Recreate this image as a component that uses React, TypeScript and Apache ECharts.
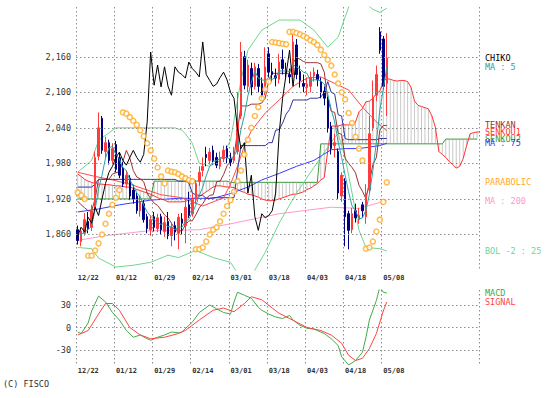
import React, { useEffect, useRef } from 'react';
import * as echarts from 'echarts';

const N = 116;
const FONT = '"DejaVu Sans Mono", monospace';
const tickLabels = ['12/22', '01/12', '01/29', '02/14', '03/01', '03/18', '04/03', '04/18', '05/08'];
const priceGrid = [1860, 1920, 1980, 2040, 2100, 2160];
const macdGrid = [-30, 0, 30];

const opens = [1868,1848,1862,1882,1872,1905,1992,2056,2000,2015,1985,2012,1990,1972,1945,1955,1935,1925,1900,1912,1890,1868,1890,1870,1890,1865,1882,1858,1875,1862,1886,1875,1910,1895,1918,1950,1968,1995,1985,2002,1990,1975,1988,2005,1988,1985,2000,2060,2160,2110,2140,2110,2140,2115,2100,2165,2135,2128,2122,2155,2138,2130,2130,2180,2135,2115,2108,2110,2128,2130,2118,2102,2088,2042,2010,2000,1925,1950,1895,1868,1900,1885,1910,1890,1935,2040,2095,2202,2190,2115];
const closes = [1850,1866,1885,1870,1900,1990,2040,2002,2015,1985,2005,1970,1960,1945,1960,1925,1920,1900,1915,1885,1870,1885,1872,1888,1868,1880,1858,1872,1864,1889,1879,1906,1892,1920,1946,1965,1975,1990,1999,1985,1977,1990,2002,1990,1982,1995,2050,2168,2112,2146,2109,2143,2110,2095,2143,2134,2130,2124,2151,2140,2134,2126,2185,2130,2120,2110,2114,2125,2134,2121,2100,2090,2040,2005,2015,1930,1960,1890,1867,1895,1888,1892,1900,1930,2030,2090,2130,2171,2110,2158];
const lows = [1843,1840,1858,1862,1866,1900,1985,1996,1988,1978,1980,1965,1955,1940,1938,1918,1912,1895,1890,1880,1862,1858,1865,1864,1860,1856,1852,1840,1850,1835,1860,1845,1888,1890,1912,1942,1958,1975,1978,1978,1972,1970,1982,1980,1975,1980,1995,2055,2105,2100,2095,2105,2100,2088,2095,2125,2118,2110,2115,2130,2125,2115,2125,2122,2108,2100,2095,2100,2118,2110,2090,2078,2032,1995,1990,1920,1915,1840,1835,1862,1880,1878,1888,1878,1930,2035,2085,2165,2105,2060];
const highs = [1875,1872,1896,1898,1910,2000,2066,2060,2025,2020,2014,2018,1998,1982,1968,1960,1944,1930,1925,1918,1895,1892,1898,1895,1895,1890,1898,1880,1882,1895,1896,1918,1932,1930,1952,1975,1990,2008,2006,2010,1998,2000,2010,2010,1998,2008,2100,2185,2170,2155,2150,2150,2148,2125,2176,2176,2150,2140,2165,2172,2150,2140,2205,2190,2145,2130,2125,2135,2142,2138,2125,2110,2092,2050,2030,2005,1965,1955,1900,1905,1912,1905,1915,1945,2060,2120,2145,2210,2195,2200];

const tenkan = [1916,1910,1905,1900,1900,1920,1953,1953,1953,1953,1962,1964,1966,1983,2002,1989,1968,1957,1954,1949,1930,1920,1913,1909,1901,1893,1888,1879,1869,1866,1866,1876,1883,1883,1893,1905,1912,1921,1926,1927,1949,1950,1961,1976,1984,1990,2035,2077,2077,2077,2080,2080,2080,2082,2090,2120,2132,2132,2132,2132,2132,2132,2150,2158,2156,2152,2150,2150,2150,2150,2148,2134,2089,2068,2066,2031,2029,1989,1980,1973,1964,1943,1933,1920,1948,1978,1990,2036,2044,2044];
const kijun = [1940,1940,1940,1940,1940,1945,1953,1953,1953,1953,1953,1953,1953,1953,1953,1953,1953,1953,1953,1953,1953,1953,1953,1953,1953,1953,1953,1953,1953,1950,1950,1950,1947,1930,1927,1926,1926,1921,1921,1922,1922,1922,1922,1922,1922,1922,1967,2010,2010,2010,2010,2010,2010,2010,2010,2015,2015,2036,2037,2048,2063,2071,2087,2087,2087,2087,2087,2090,2090,2090,2092,2100,2118,2100,2097,2062,2060,2022,2020,2020,2020,2020,2020,2020,2020,2020,2020,2022,2022,2022];
const senkou1 = [1962,1958,1953,1950,1948,1946,1945,1945,1944,1944,1943,1942,1942,1941,1940,1940,1938,1936,1934,1932,1930,1928,1925,1922,1920,1918,
  1915,1915,1915,1915,1915,1916,1918,1920,1922,1924,1928,1932,1936,1940,1942,1942,1941,1940,1940,1939,
  1936,1933,1931,1928,1927,1925,1923,1920,1918,1917,1917,1918,1920,1922,1924,1926,1928,1928,1930,1932,1936,1938,1942,1946,1952,1956,
  2001,2043,2043,2043,2045,2045,2045,2046,2050,2067,2073,2084,2085,2090,2098,2102,2119,2123,2122,2120,2119,2120,2120,2118,2108,2085,2078,2076,2074,2072,2060,2041,2000,1995,1990,1983,1978,1972,1975,1988,2010,2030,2032,2033,2033];
const senkou2 = [1920,1920,1920,1920,1920,1920,1920,1920,1920,1920,1920,1920,1920,1920,1920,1920,1920,1920,1920,1920,1920,1920,
  1950,1950,1950,1950,1950,1950,1950,1950,1950,1950,1950,1950,1950,1950,1950,1950,1950,1950,1950,1950,1950,1950,
  1948,1948,1948,1948,1948,1948,1948,1948,1948,1948,1948,1948,1948,1948,1948,1948,1948,1948,1948,1948,1948,1948,1948,1948,1948,1948,
  2013,2013,2013,2013,2013,2013,2013,2013,2013,2013,2013,2013,2013,2013,2013,2013,2013,2013,2013,2013,2013,2013,2013,2013,2013,2013,2013,2013,2013,2013,2013,2013,2013,2013,2013,2013,
  2021,2021,2021,2021,2021,2021,2021,2021,2021,2021];
const ma5 = [1862,1860,1864,1868,1874,1902,1937,1960,1989,2006,2009,1995,1987,1973,1968,1952,1942,1930,1924,1909,1898,1891,1885,1880,1877,1879,1873,1873,1868,1873,1872,1882,1886,1897,1909,1926,1940,1959,1975,1983,1985,1988,1991,1989,1988,1992,2004,2037,2061,2094,2117,2136,2124,2121,2120,2125,2122,2125,2136,2136,2136,2135,2147,2143,2139,2134,2132,2120,2121,2121,2119,2114,2097,2071,2050,2016,1990,1960,1932,1908,1900,1886,1888,1901,1928,1968,2016,2070,2106,2142];
const chikou = [1858,1872,1864,1889,1879,1906,1892,1920,1946,1965,1975,1990,1999,1985,1977,1990,2002,1990,1982,1995,2050,2168,2112,2146,2109,2143,2110,2095,2143,2134,2130,2124,2151,2140,2134,2126,2185,2130,2120,2110,2114,2125,2134,2121,2100,2090,2040,2005,2015,1930,1960,1890,1867,1895,1888,1892,1900,1930,2030,2090,2130,2171,2110,2158];
const parabolic = [1931,1926,1920,1824,1824,1833,1845,1860,1878,1895,1910,1922,1935,2066,2064,2058,2052,2045,2036,2026,2014,2002,1988,1973,1958,1946,1968,1966,1965,1962,1958,1955,1952,1950,1835,1835,1838,1848,1860,1868,1872,1882,1895,1908,1918,1932,1950,1968,1995,2020,2040,2060,2075,2090,2105,2118,2185,2184,2183,2182,2181,2202,2202,2200,2198,2195,2192,2188,2185,2180,2172,2163,2155,2145,2130,2115,2100,2088,2065,2048,2025,2005,1985,1836,1838,1848,1865,1885,1915,1948];

const ma25Pts = [[0,1965],[5,1958],[10,1952],[15,1945],[20,1935],[24,1927],[30,1922],[36,1908],[42,1922],[44,1945],[46,1975],[48,2010],[50,2035],[54,2065],[58,2087],[62,2110],[66,2124],[70,2126],[74,2115],[78,2104],[82,2075],[86,2050],[89,2035]];
const ma75Pts = [[0,1898],[6,1903],[12,1910],[21,1918],[29,1921],[39,1921],[44,1929],[49,1940],[53,1952],[58,1963],[63,1975],[68,1985],[73,2003],[77,2005],[81,2005],[87,2010],[89,2014]];
const ma200Pts = [[0,1850],[8,1858],[20,1866],[35,1868],[44,1878],[58,1895],[73,1906],[81,1904],[87,1914],[89,1917]];
const bolUpPts = [[0,1965],[4,1985],[6,2019],[11,2040],[20,2040],[28,2040],[30,2036],[31,2030],[33,2014],[35,1980],[38,1975],[41,1985],[44,2019],[47,2120],[49,2171],[53,2205],[58,2222],[64,2222],[68,2205],[72,2176],[75,2193],[77,2227],[79,2260],[81,2270],[83,2250],[85,2240],[87,2235],[89,2242]];
const bolLowPts = [[0,1838],[4,1836],[6,1820],[11,1805],[16,1808],[21,1813],[26,1825],[29,1821],[34,1833],[39,1821],[44,1813],[46,1795],[48,1780],[50,1790],[54,1830],[58,1879],[63,1930],[68,1973],[72,2007],[74,2024],[75,2030],[77,1990],[79,1930],[81,1867],[83,1838],[87,1836],[89,1832]];

const macdPts = [[0,-6],[1,-8],[3,6],[4,22],[6,42],[8,34],[10,20],[12,10],[14,-4],[16,-13],[18,-10],[20,-15],[21,-17],[23,-13],[25,-10],[27,-6],[29,-7],[30,-6],[32,3],[33,7],[35,20],[38,30],[40,25],[42,20],[44,18],[45,34],[46,47],[48,43],[50,39],[52,27],[53,23],[55,18],[57,14],[59,12],[61,16],[62,10],[64,3],[66,-1],[68,-2],[71,-8],[73,-15],[75,-24],[76,-39],[78,-50],[80,-44],[82,-33],[83,-13],[84,10],[86,36],[87,54],[88,47],[89,46]];
const signalPts = [[0,-10],[3,-4],[6,18],[8,32],[10,32],[12,23],[15,0],[18,-10],[21,-15],[25,-13],[29,-8],[31,-4],[35,10],[39,23],[42,26],[45,21],[48,32],[50,41],[53,37],[56,26],[58,19],[61,12],[66,0],[70,-4],[73,-10],[76,-21],[78,-37],[80,-44],[82,-41],[84,-28],[86,-8],[88,22],[89,34]];

const C = {
  up: '#ff3b3b', down: '#000080', chikou: '#000000', ma5: '#2aa3a3', tenkan: '#993333', kijun: '#333399',
  senkou1: '#ff3333', senkou2: '#3c993c', ma25: '#ff4d4d', ma75: '#3a3aff', ma200: '#ff99cc', bol: '#6fd68f',
  sar: '#ffaa22', macd: '#44aa44', signal: '#ff4444', grid: '#8c8c8c', text: '#333333', hatch: '#c8c8c8',
};

const categories = Array.from({ length: N }, (_, i) => String(i));
const withIndex = (arr: number[], offset = 0) => arr.map((v, i) => [i + offset, v]);
const comma = (v: number) => String(v).replace(/\B(?=(\d{3})+(?!\d))/g, ',');

export default function App() {
  const ref = useRef<HTMLDivElement>(null);
  useEffect(() => {
    const chart = echarts.init(ref.current!, null, { renderer: 'svg' });
    const gridLine = { type: [1.5, 2.5] as any, color: C.grid, width: 1 };
    const showIdx = (i: number) => i % 11 === 0 && i <= 88;
    const xAxis = (gridIndex: number, margin: number) => ({
      type: 'category', gridIndex, data: categories, boundaryGap: true,
      axisLine: { show: false }, axisTick: { show: false },
      axisLabel: {
        interval: (i: number) => showIdx(i), formatter: (_v: string, i: number) => (showIdx(i) ? tickLabels[i / 11] : ''),
        align: 'left', fontSize: 7, fontWeight: 'bold', color: C.text, fontFamily: FONT, margin,
      },
      splitLine: { show: true, interval: (i: number) => showIdx(i), lineStyle: gridLine },
    });
    const line = (name: string, data: any[], color: string, z = 3, width = 1) => ({
      name, type: 'line', data, xAxisIndex: 0, yAxisIndex: 0, symbol: 'none', showSymbol: false,
      lineStyle: { color, width }, z, silent: true, clip: true, connectNulls: true,
    });
    const candleData = opens.map((o, i) => [o, closes[i], lows[i], highs[i]]);
    const cloud = senkou1.map((v, i) => [i, v, senkou2[i]]);

    chart.setOption({
      animation: false,
      grid: [
        { left: 76, top: 7, width: 402.8, height: 263 },
        { left: 76, top: 290, width: 402.8, height: 75 },
      ],
      xAxis: [xAxis(0, 4), xAxis(1, 2)],
      yAxis: [
        { type: 'value', gridIndex: 0, min: 1800, max: 2244, interval: 60, axisLine: { show: false }, axisTick: { show: false }, splitLine: { show: false },
          axisLabel: { formatter: (v: number) => (priceGrid.includes(v) ? comma(v) : ''), fontSize: 8.5, color: C.text, fontFamily: FONT, margin: 5 } },
        { type: 'value', gridIndex: 1, min: -50, max: 50, interval: 10, axisLine: { show: false }, axisTick: { show: false }, splitLine: { show: false },
          axisLabel: { formatter: (v: number) => (macdGrid.includes(v) ? String(v) : ''), fontSize: 8.5, color: C.text, fontFamily: FONT, margin: 5 } },
      ],
      series: [
        {
          type: 'custom', xAxisIndex: 0, yAxisIndex: 0, data: cloud, z: 1, silent: true, clip: true,
          encode: { x: 0, y: [1, 2] },
          renderItem: (_p: any, api: any) => {
            const a = api.coord([api.value(0), api.value(1)]);
            const b = api.coord([api.value(0), api.value(2)]);
            return { type: 'line', shape: { x1: a[0], y1: a[1], x2: a[0], y2: b[1] }, style: { stroke: C.hatch, lineWidth: 1 } };
          },
        },
        line('senkou2', withIndex(senkou2), C.senkou2, 2),
        line('senkou1', withIndex(senkou1), C.senkou1, 2),
        line('ma200', ma200Pts, C.ma200, 3),
        line('ma75', ma75Pts, C.ma75, 3),
        line('bolUp', bolUpPts, C.bol, 3),
        line('bolLow', bolLowPts, C.bol, 3),
        line('ma25', ma25Pts, C.ma25, 3),
        line('kijun', withIndex(kijun), C.kijun, 3),
        line('tenkan', withIndex(tenkan), C.tenkan, 3),
        {
          type: 'candlestick', xAxisIndex: 0, yAxisIndex: 0, data: candleData, barWidth: 2, z: 4, silent: true,
          itemStyle: { color: C.up, color0: C.down, borderColor: C.up, borderColor0: C.down, borderWidth: 1 },
          markLine: { silent: true, symbol: ['none', 'none'], label: { show: false }, lineStyle: gridLine, animation: false,
            data: priceGrid.map((v) => ({ yAxis: v })) },
        },
        line('ma5', withIndex(ma5), C.ma5, 5),
        line('chikou', withIndex(chikou), C.chikou, 5),
        {
          type: 'scatter', xAxisIndex: 0, yAxisIndex: 0, data: withIndex(parabolic), symbol: 'circle', symbolSize: 5, z: 6, silent: true,
          itemStyle: { color: '#ffffff', borderColor: C.sar, borderWidth: 1.5 },
        },
        {
          type: 'line', xAxisIndex: 1, yAxisIndex: 1, data: macdPts, symbol: 'none', lineStyle: { color: C.macd, width: 1 }, z: 3, silent: true,
          markLine: { silent: true, symbol: ['none', 'none'], label: { show: false }, lineStyle: gridLine, animation: false,
            data: macdGrid.map((v) => ({ yAxis: v })) },
        },
        { type: 'line', xAxisIndex: 1, yAxisIndex: 1, data: signalPts, symbol: 'none', lineStyle: { color: C.signal, width: 1 }, z: 3, silent: true },
      ],
    });

    const last = (a: any[]) => { const v = a[a.length - 1]; return Array.isArray(v) ? v[1] : v; };
    const mainLabels = [
      { t: 'CHIKO', c: C.chikou, v: last(chikou) },
      { t: 'MA : 5', c: C.ma5, v: last(ma5) },
      { t: 'TENKAN', c: C.tenkan, v: last(tenkan) },
      { t: 'SENKOU1', c: C.senkou1, v: last(senkou1) },
      { t: 'SENKOU2', c: C.senkou2, v: last(senkou2) },
      { t: 'MA : 75', c: C.ma75, v: last(ma75Pts) },
      { t: 'PARABOLIC', c: C.sar, v: last(parabolic) },
      { t: 'MA : 200', c: C.ma200, v: last(ma200Pts) },
      { t: 'BOL -2 : 25', c: C.bol, v: last(bolLowPts) },
    ];
    const macdLabels = [
      { t: 'MACD', c: C.macd, v: last(macdPts) },
      { t: 'SIGNAL', c: C.signal, v: last(signalPts) },
    ];
    const mk = (l: any, axis: number) => ({
      type: 'text', x: 485, y: chart.convertToPixel({ yAxisIndex: axis } as any, l.v) as any,
      style: { text: l.t, fill: l.c, font: `8.5px ${FONT}`, verticalAlign: 'middle' }, silent: true,
    });
    chart.setOption({
      graphic: [
        ...mainLabels.map((l) => mk(l, 0)),
        ...macdLabels.map((l) => mk(l, 1)),
        { type: 'text', x: 3, y: 384, style: { text: '(C) FISCO', fill: C.text, font: `8.5px ${FONT}`, verticalAlign: 'middle' }, silent: true },
      ],
    });
    return () => chart.dispose();
  }, []);
  return <div ref={ref} style={{ position: 'absolute', left: 0, top: 0, width: 556, height: 398, background: '#fff' }} />;
}
